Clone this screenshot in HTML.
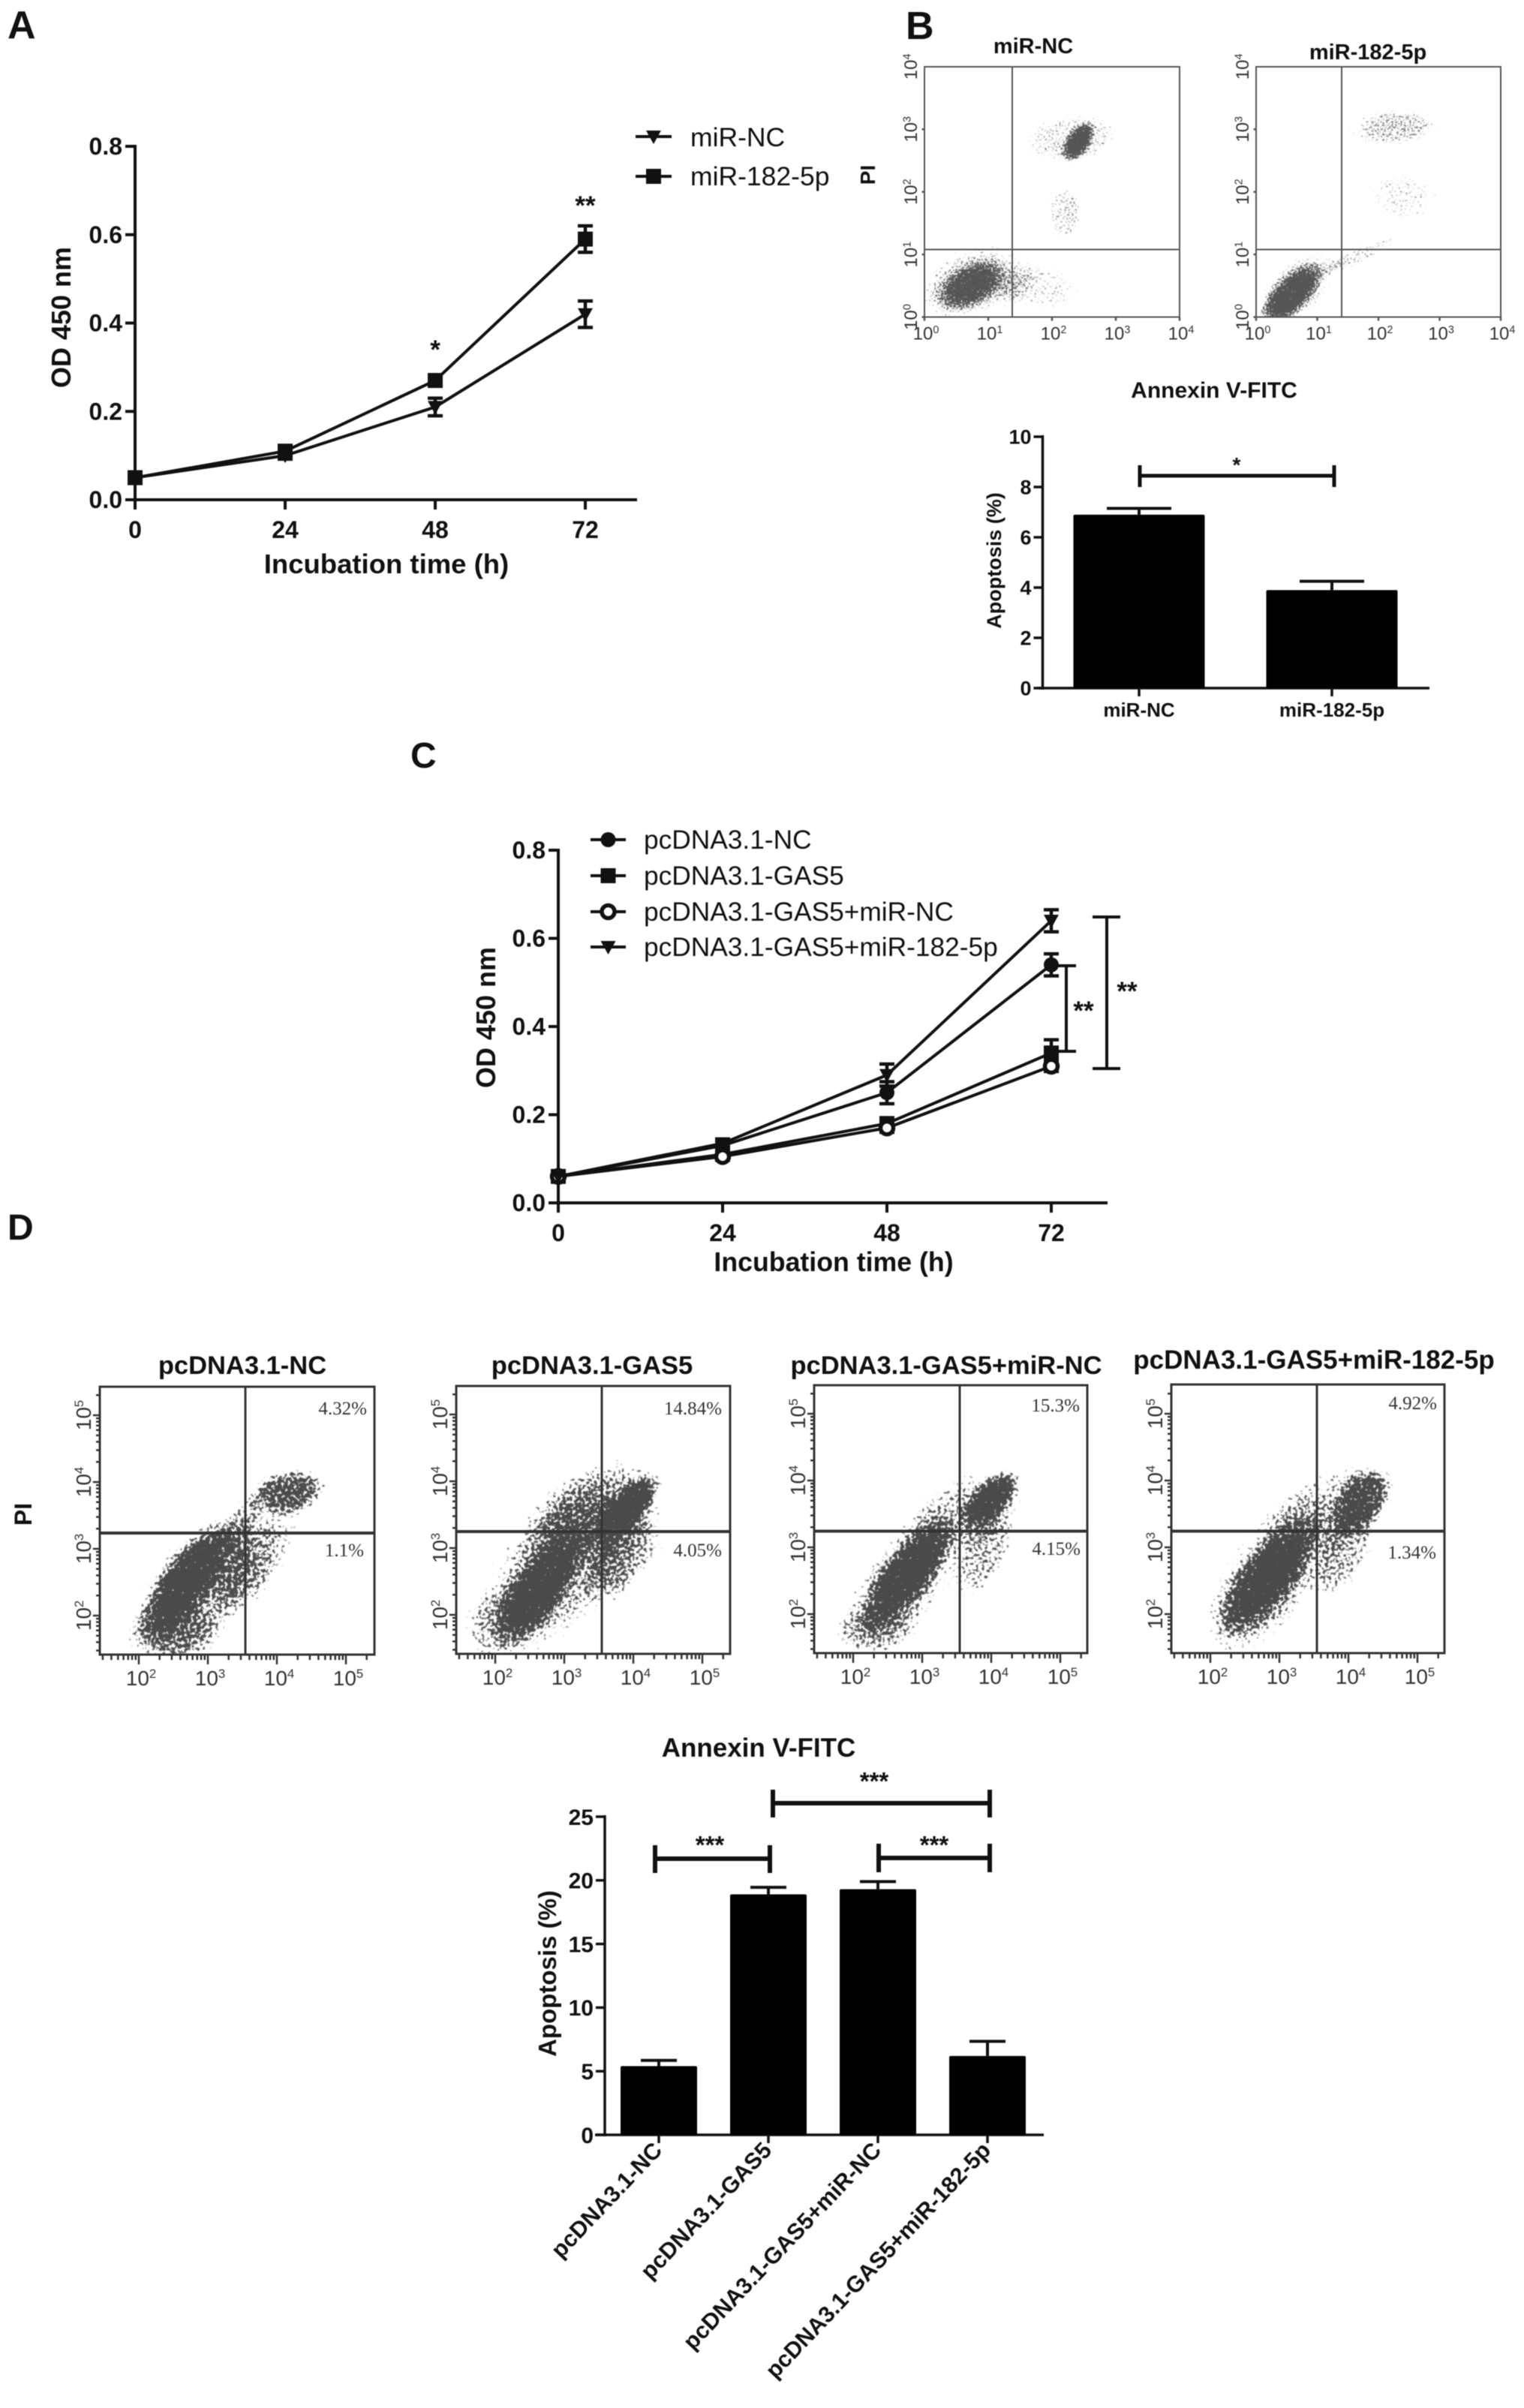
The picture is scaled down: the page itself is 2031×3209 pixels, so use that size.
<!DOCTYPE html>
<html lang="en">
<head>
<meta charset="utf-8">
<title>Cell viability and apoptosis figure</title>
<style>
html,body{margin:0;padding:0;background:#fff;}
svg{display:block;filter:blur(.6px);}
text{font-family:"Liberation Sans",sans-serif;fill:#111;}
.b{font-weight:bold;}
.s{font-family:"Liberation Serif",serif;fill:#333;font-size:25px;}
</style>
</head>
<body>
<svg id="figure" xmlns="http://www.w3.org/2000/svg" width="2031" height="3209" viewBox="0 0 2031 3209">
  <defs>
    <radialGradient id="density">
      <stop offset="0" stop-color="#000" stop-opacity="1"/>
      <stop offset=".5" stop-color="#000" stop-opacity=".92"/>
      <stop offset="1" stop-color="#000" stop-opacity="0"/>
    </radialGradient>
    <filter id="stippleD" x="0" y="0" width="1" height="1" color-interpolation-filters="sRGB">
      <feTurbulence type="fractalNoise" baseFrequency="0.24" numOctaves="2" seed="7" result="n"/>
      <feColorMatrix in="n" type="matrix" values="0 0 0 0 0 0 0 0 0 0 0 0 0 0 0 0 0 0 1 0" result="na"/>
      <feComposite in="SourceAlpha" in2="na" operator="arithmetic" k1="0" k2="1.8" k3="2" k4="-2.05" result="m"/>
      <feComponentTransfer in="m" result="t"><feFuncA type="linear" slope="6" intercept="0"/></feComponentTransfer>
      <feFlood flood-color="#4a4a4a"/>
      <feComposite in2="t" operator="in"/>
      <feGaussianBlur stdDeviation=".5"/>
    </filter>
    <filter id="stippleB" x="0" y="0" width="1" height="1" color-interpolation-filters="sRGB">
      <feTurbulence type="fractalNoise" baseFrequency="0.42" numOctaves="2" seed="11" result="n"/>
      <feColorMatrix in="n" type="matrix" values="0 0 0 0 0 0 0 0 0 0 0 0 0 0 0 0 0 0 1 0" result="na"/>
      <feComposite in="SourceAlpha" in2="na" operator="arithmetic" k1="0" k2="1.8" k3="2" k4="-2.05" result="m"/>
      <feComponentTransfer in="m" result="t"><feFuncA type="linear" slope="5" intercept="0"/></feComponentTransfer>
      <feFlood flood-color="#555"/>
      <feComposite in2="t" operator="in"/>
      <feGaussianBlur stdDeviation=".6"/>
    </filter>
  </defs>

  <!-- panel letters -->
  <text class="b" x="10" y="51" font-size="52">A</text>
  <text class="b" x="1207" y="52" font-size="52">B</text>
  <text class="b" x="547" y="1023" font-size="48">C</text>
  <text class="b" x="10" y="1652" font-size="48">D</text>

  <!-- panel A static text -->
  <text class="b" font-size="36" text-anchor="middle" transform="translate(94,423) rotate(-90)">OD 450 nm</text>
  <text class="b" font-size="36.5" text-anchor="middle" x="515" y="764">Incubation time (h)</text>
  <text class="b" font-size="35" text-anchor="middle" x="580" y="478">*</text>
  <text class="b" font-size="35" text-anchor="middle" x="780" y="286">**</text>
  <text font-size="35.5" x="920" y="195">miR-NC</text>
  <text font-size="35.5" x="920" y="247">miR-182-5p</text>

  <!-- panel B static text -->
  <text class="b" font-size="29" text-anchor="middle" x="1377" y="71">miR-NC</text>
  <text class="b" font-size="29" text-anchor="middle" x="1823" y="79">miR-182-5p</text>
  <text class="b" font-size="28" text-anchor="middle" transform="translate(1166,233) rotate(-90)">PI</text>
  <text class="b" font-size="30" text-anchor="middle" x="1618" y="530">Annexin V-FITC</text>
  <text class="b" font-size="27" text-anchor="middle" transform="translate(1334,747) rotate(-90)">Apoptosis (%)</text>
  <path d="M1519 634H1778M1519 620V649M1778 620V649" fill="none" stroke="#111" stroke-width="5"/>
  <text class="b" font-size="28" text-anchor="middle" x="1648" y="629">*</text>

  <!-- panel C static text -->
  <text class="b" font-size="36" text-anchor="middle" transform="translate(660,1356) rotate(-90)">OD 450 nm</text>
  <text class="b" font-size="35.7" text-anchor="middle" x="1111" y="1694">Incubation time (h)</text>
  <text font-size="35.3" x="858" y="1131">pcDNA3.1-NC</text>
  <text font-size="35.3" x="858" y="1179">pcDNA3.1-GAS5</text>
  <text font-size="35.3" x="858" y="1227">pcDNA3.1-GAS5+miR-NC</text>
  <text font-size="35.3" x="858" y="1274">pcDNA3.1-GAS5+miR-182-5p</text>
  <path d="M1421 1287V1401M1409 1287H1434M1409 1401H1434" fill="none" stroke="#111" stroke-width="4"/>
  <path d="M1475 1222V1424M1456 1222H1493M1456 1424H1493" fill="none" stroke="#111" stroke-width="4"/>
  <text class="b" font-size="35" text-anchor="middle" x="1444" y="1359">**</text>
  <text class="b" font-size="35" text-anchor="middle" x="1502" y="1333">**</text>

  <!-- panel D static text -->
  <text class="b" font-size="34.5" text-anchor="middle" x="323" y="1831">pcDNA3.1-NC</text>
  <text class="b" font-size="34.5" text-anchor="middle" x="789" y="1831">pcDNA3.1-GAS5</text>
  <text class="b" font-size="34.5" text-anchor="middle" x="1261" y="1831">pcDNA3.1-GAS5+miR-NC</text>
  <text class="b" font-size="35" text-anchor="middle" x="1751" y="1824">pcDNA3.1-GAS5+miR-182-5p</text>
  <text class="b" font-size="32" text-anchor="middle" transform="translate(42,2018) rotate(-90)">PI</text>
  <text class="b" font-size="35" text-anchor="middle" x="1011" y="2341">Annexin V-FITC</text>
  <text class="s" text-anchor="end" x="489" y="1885">4.32%</text>
  <text class="s" text-anchor="end" x="485" y="2074">1.1%</text>
  <text class="s" text-anchor="end" x="962" y="1885">14.84%</text>
  <text class="s" text-anchor="end" x="962" y="2074">4.05%</text>
  <text class="s" text-anchor="end" x="1439" y="1881">15.3%</text>
  <text class="s" text-anchor="end" x="1440" y="2072">4.15%</text>
  <text class="s" text-anchor="end" x="1915" y="1878">4.92%</text>
  <text class="s" text-anchor="end" x="1914" y="2077">1.34%</text>
  <text class="b" font-size="33" text-anchor="middle" transform="translate(741,2630) rotate(-90)">Apoptosis (%)</text>
  <path d="M873 2477H1026M873 2459V2496M1026 2459V2496" fill="none" stroke="#111" stroke-width="6"/>
  <path d="M1030 2403H1319M1030 2385V2422M1319 2385V2422" fill="none" stroke="#111" stroke-width="6"/>
  <path d="M1171 2476H1319M1171 2457V2495M1319 2457V2495" fill="none" stroke="#111" stroke-width="6"/>
  <text class="b" font-size="33" text-anchor="middle" x="946" y="2470">***</text>
  <text class="b" font-size="33" text-anchor="middle" x="1165" y="2385">***</text>
  <text class="b" font-size="33" text-anchor="middle" x="1245" y="2470">***</text>
</svg>

<script>
/* ---------- Panel A data ---------- */
const aTimes = [0, 24, 48, 72];
const aMirNc = [0.05, 0.10, 0.21, 0.42];
const aMirNcErr = [0.005, 0.008, 0.02, 0.03];
const aMir182 = [0.05, 0.11, 0.27, 0.59];
const aMir182Err = [0.005, 0.008, 0.012, 0.03];

/* ---------- Panel C data ---------- */
const cTimes = [0, 24, 48, 72];
const cNc = [0.06, 0.13, 0.25, 0.54];
const cNcErr = [0.012, 0.01, 0.025, 0.025];
const cGas5 = [0.06, 0.11, 0.18, 0.34];
const cGas5Err = [0.012, 0.008, 0.012, 0.03];
const cGas5MirNc = [0.06, 0.105, 0.17, 0.31];
const cGas5MirNcErr = [0.012, 0.008, 0.01, 0.012];
const cGas5Mir182 = [0.06, 0.135, 0.29, 0.64];
const cGas5Mir182Err = [0.012, 0.01, 0.025, 0.025];

/* ---------- Shared line-chart ticks ---------- */
const lineXTicks = [0, 24, 48, 72];
const lineYTicks = [0, 0.2, 0.4, 0.6, 0.8];
const lineYTickLabels = ['0.0', '0.2', '0.4', '0.6', '0.8'];

/* ---------- Bar data ---------- */
const bCategories = ['miR-NC', 'miR-182-5p'];
const bMeans = [6.9, 3.9];
const bErrTops = [7.15, 4.25];
const bYTicks = [0, 2, 4, 6, 8, 10];
const dCategories = ['pcDNA3.1-NC', 'pcDNA3.1-GAS5', 'pcDNA3.1-GAS5+miR-NC', 'pcDNA3.1-GAS5+miR-182-5p'];
const dMeans = [5.4, 18.9, 19.3, 6.2];
const dErrTops = [5.85, 19.45, 19.9, 7.35];
const dYTicks = [0, 5, 10, 15, 20, 25];

/* ---------- Flow cytometry populations, estimated by eye:
   [log10 Annexin, log10 PI, long radius, short radius (decades), angle, density] ---------- */
const bFlowExponents = [0, 1, 2, 3, 4];
const dFlowExponents = [2, 3, 4, 5];
const flowB1 = [[0.73,0.51,0.62,0.36,-28,0.9],[0.75,0.55,1.2,0.72,-20,0.55],[1.85,0.45,0.85,0.5,0,0.42],[2.41,2.8,0.4,0.22,-55,1],[2.3,2.85,1.05,0.55,-5,0.48],[2.2,1.65,0.6,0.38,90,0.48]];
const flowB2 = [[0.58,0.37,0.7,0.3,-45,1],[0.62,0.42,1.1,0.55,-45,0.56],[1.7,1.0,0.85,0.18,-25,0.46],[2.27,3.03,0.95,0.4,-5,0.54],[2.4,1.92,0.8,0.55,0,0.42]];
const flowD1 = [[2.7,2.5,1.12,0.44,-54,1],[2.85,2.4,1.6,0.95,-54,0.56],[3.7,2.85,1.1,0.55,-52,0.52],[4.16,3.85,0.7,0.42,-10,0.8],[3.45,3.35,0.65,0.25,-55,0.46],[2.5,1.75,0.8,0.5,0,0.48]];
const flowD2 = [[2.67,2.45,1.12,0.44,-54,1],[2.9,2.7,1.75,1.1,-54,0.58],[3.91,3.61,0.7,0.3,-45,1],[3.5,3.6,1.3,0.82,-30,0.54],[3.9,2.9,0.95,0.55,-55,0.56],[2.1,1.9,0.9,0.62,-30,0.46]];
const flowD3 = [[2.79,2.6,1.05,0.4,-52,1],[2.7,2.45,1.4,0.75,-52,0.6],[3.98,3.71,0.62,0.3,-45,1],[3.6,3.55,1.2,0.66,-25,0.52],[3.9,2.9,0.92,0.45,-60,0.54],[2.3,1.75,0.8,0.45,0,0.4]];
const flowD4 = [[2.84,2.56,1.12,0.45,-52,1],[2.8,2.45,1.6,0.85,-52,0.6],[4.2,3.72,0.65,0.42,-50,0.78],[3.7,3.6,1.2,0.72,-20,0.5],[3.95,2.9,0.92,0.45,-65,0.54]];

/* ---------- Helpers ---------- */
const NS = 'http://www.w3.org/2000/svg';
const fig = document.getElementById('figure');
function make(tag, attrs, parent, name) {
  const el = document.createElementNS(NS, tag);
  for (const k in attrs) el.setAttribute(k, attrs[k]);
  
  
  (parent || fig).appendChild(el);
  return el;
}
function label(txt, x, y, size, anchor, bold, parent, name, transform) {
  const attrs = {x: x, y: y, 'font-size': size, 'text-anchor': anchor};
  if (bold) attrs['font-weight'] = 'bold';
  if (transform) attrs.transform = transform;
  const el = make('text', attrs, parent, name);
  el.textContent = txt;
  return el;
}
function marker(shape, x, y, parent, name) {
  if (shape === 'square') return make('rect', {x: x - 10, y: y - 10, width: 20, height: 20, fill: '#111'}, parent, name);
  if (shape === 'circle') return make('circle', {cx: x, cy: y, r: 10, fill: '#111'}, parent, name);
  if (shape === 'ring') return make('circle', {cx: x, cy: y, r: 8.5, fill: '#fff', stroke: '#111', 'stroke-width': 5.5}, parent, name);
  return make('polygon', {points: (x - 10) + ',' + (y - 8) + ' ' + (x + 10) + ',' + (y - 8) + ' ' + x + ',' + (y + 10), fill: '#111'}, parent, name);
}

/* ---------- Line charts ---------- */
function lineAxes(g, xOf, yOf, xEnd, prefix) {
  const x0 = xOf(0), y0 = yOf(0);
  make('line', {x1: x0, x2: x0, y1: yOf(0.8) - 2, y2: y0 + 2, stroke: '#111', 'stroke-width': 4}, g, prefix + '-y-axis');
  make('line', {x1: x0 - 2, x2: xEnd, y1: y0, y2: y0, stroke: '#111', 'stroke-width': 4}, g, prefix + '-x-axis');
  lineYTicks.forEach(function (v, i) {
    make('line', {x1: x0 - 13, x2: x0, y1: yOf(v), y2: yOf(v), stroke: '#111', 'stroke-width': 4}, g, prefix + '-y-tick');
    label(lineYTickLabels[i], x0 - 17, yOf(v) + 11, 32, 'end', true, g, prefix + '-y-tick-label');
  });
  lineXTicks.forEach(function (t) {
    make('line', {x1: xOf(t), x2: xOf(t), y1: y0, y2: y0 + 13, stroke: '#111', 'stroke-width': 4}, g, prefix + '-x-tick');
    label(String(t), xOf(t), y0 + 51, 32, 'middle', true, g, prefix + '-x-tick-label');
  });
}
function drawSeries(g, times, vals, errs, shape, xOf, yOf, name) {
  const pts = vals.map(function (v, i) { return xOf(times[i]) + ',' + yOf(v); }).join(' ');
  make('polyline', {points: pts, fill: 'none', stroke: '#111', 'stroke-width': 4}, g, name + '-line');
  vals.forEach(function (v, i) {
    const x = xOf(times[i]), hi = yOf(v + errs[i]), lo = yOf(v - errs[i]);
    make('path', {d: 'M' + x + ' ' + hi + 'V' + lo + 'M' + (x - 10) + ' ' + hi + 'H' + (x + 10) + 'M' + (x - 10) + ' ' + lo + 'H' + (x + 10), fill: 'none', stroke: '#111', 'stroke-width': 4.5}, g, name + '-error-bar');
    marker(shape, x, yOf(v), g, name + '-point');
  });
}
function legendKey(g, x1, x2, y, shape, name) {
  make('line', {x1: x1, x2: x2, y1: y, y2: y, stroke: '#111', 'stroke-width': 4}, g, name + '-line');
  marker(shape, (x1 + x2) / 2, y, g, name + '-marker');
}

const gA = make('g', {}, fig, 'panel-a-line-chart');
const aX = function (t) { return 180 + t * (600 / 72); };
const aY = function (v) { return 666 - v * (471 / 0.8); };
lineAxes(gA, aX, aY, 849, 'a');
drawSeries(gA, aTimes, aMirNc, aMirNcErr, 'tri', aX, aY, 'a-series-mir-nc');
drawSeries(gA, aTimes, aMir182, aMir182Err, 'square', aX, aY, 'a-series-mir-182');
legendKey(gA, 847, 895, 182, 'tri', 'a-legend-mir-nc');
legendKey(gA, 847, 895, 235, 'square', 'a-legend-mir-182');

const gC = make('g', {}, fig, 'panel-c-line-chart');
const cX = function (t) { return 744 + t * (657 / 72); };
const cY = function (v) { return 1603 - v * (470 / 0.8); };
lineAxes(gC, cX, cY, 1476, 'c');
drawSeries(gC, cTimes, cNc, cNcErr, 'circle', cX, cY, 'c-series-nc');
drawSeries(gC, cTimes, cGas5, cGas5Err, 'square', cX, cY, 'c-series-gas5');
drawSeries(gC, cTimes, cGas5MirNc, cGas5MirNcErr, 'ring', cX, cY, 'c-series-gas5-mir-nc');
drawSeries(gC, cTimes, cGas5Mir182, cGas5Mir182Err, 'tri', cX, cY, 'c-series-gas5-mir-182');
legendKey(gC, 787, 834, 1119, 'circle', 'c-legend-nc');
legendKey(gC, 787, 834, 1167, 'square', 'c-legend-gas5');
legendKey(gC, 787, 834, 1215, 'ring', 'c-legend-gas5-mir-nc');
legendKey(gC, 787, 834, 1262, 'tri', 'c-legend-gas5-mir-182');

/* ---------- Bar charts ---------- */
function barChart(g, cats, means, tops, ticks, o) {
  const y0 = o.yOf(0);
  make('line', {x1: o.axisX, x2: o.axisX, y1: o.yOf(ticks[ticks.length - 1]) - 2, y2: y0 + 2, stroke: '#111', 'stroke-width': 3.5}, g, o.prefix + '-y-axis');
  make('line', {x1: o.axisStart, x2: o.axisEnd, y1: y0, y2: y0, stroke: '#111', 'stroke-width': 3.5}, g, o.prefix + '-x-axis');
  ticks.forEach(function (v) {
    make('line', {x1: o.axisX - 12, x2: o.axisX, y1: o.yOf(v), y2: o.yOf(v), stroke: '#111', 'stroke-width': 3.5}, g, o.prefix + '-y-tick');
    label(String(v), o.axisX - 15, o.yOf(v) + o.font * 0.36, o.font, 'end', true, g, o.prefix + '-y-tick-label');
  });
  cats.forEach(function (c, i) {
    const cx = o.xOf(i);
    make('line', {x1: cx, x2: cx, y1: o.yOf(tops[i]), y2: o.yOf(means[i]), stroke: '#111', 'stroke-width': 4}, g, o.prefix + '-error-stem');
    make('line', {x1: cx - o.cap, x2: cx + o.cap, y1: o.yOf(tops[i]), y2: o.yOf(tops[i]), stroke: '#111', 'stroke-width': 4}, g, o.prefix + '-error-cap');
    make('rect', {x: cx - o.barW / 2, y: o.yOf(means[i]), width: o.barW, height: y0 - o.yOf(means[i]), rx: 2, fill: '#000'}, g, o.prefix + '-bar');
    make('line', {x1: cx, x2: cx, y1: y0, y2: y0 + 11, stroke: '#111', 'stroke-width': 3.5}, g, o.prefix + '-x-tick');
    if (o.rotate) {
      const lx = cx + 6, ly = y0 + 22;
      label(c, lx, ly, 30.5, 'end', true, g, o.prefix + '-category-label', 'rotate(-46.5 ' + lx + ' ' + ly + ')');
    } else {
      label(c, cx, y0 + 38, 26, 'middle', true, g, o.prefix + '-category-label');
    }
  });
}
const gBBar = make('g', {}, fig, 'panel-b-bar-chart');
barChart(gBBar, bCategories, bMeans, bErrTops, bYTicks, {
  prefix: 'b-bar', axisX: 1389.5, axisStart: 1383, axisEnd: 1905, font: 27, barW: 175, cap: 43, rotate: false,
  xOf: function (i) { return 1518 + i * 257; },
  yOf: function (v) { return 917 - v * 33.5; }
});
const gDBar = make('g', {}, fig, 'panel-d-bar-chart');
barChart(gDBar, dCategories, dMeans, dErrTops, dYTicks, {
  prefix: 'd-bar', axisX: 806, axisStart: 793, axisEnd: 1391, font: 30, barW: 102, cap: 24, rotate: true,
  xOf: function (i) { return 878 + i * 146; },
  yOf: function (v) { return 2845 - v * 16.96; }
});

/* ---------- Flow cytometry dot plots ---------- */
let clipIndex = 0;
function flowPlot(f, clusters, exps) {
  const g = make('g', {}, fig, f.prefix + '-flow-plot');
  const xOf = function (v) { return f.left + f.xOff + (v - exps[0]) * f.xDec; };
  const yOf = function (v) { return f.bottom - f.yOff - (v - exps[0]) * f.yDec; };
  const id = 'flowClip' + (clipIndex++);
  const defsClip = make('clipPath', {id: id}, g, f.prefix + '-clip');
  make('rect', {x: f.left, y: f.top, width: f.right - f.left, height: f.bottom - f.top}, defsClip, f.prefix + '-clip-rect');
  const clipG = make('g', {'clip-path': 'url(#' + id + ')'}, g, f.prefix + '-events-clip');
  const dots = make('g', {filter: 'url(#' + f.filter + ')'}, clipG, f.prefix + '-event-density');
  make('rect', {x: f.left, y: f.top, width: f.right - f.left, height: f.bottom - f.top, fill: 'none'}, dots, f.prefix + '-density-bounds');
  clusters.forEach(function (c) {
    const cx = xOf(c[0]), cy = yOf(c[1]);
    make('ellipse', {cx: cx, cy: cy, rx: c[2] * f.xDec, ry: c[3] * f.yDec, fill: 'url(#density)', 'fill-opacity': c[5], transform: 'rotate(' + c[4] + ' ' + cx + ' ' + cy + ')'}, dots, f.prefix + '-population');
  });
  make('rect', {x: f.left, y: f.top, width: f.right - f.left, height: f.bottom - f.top, fill: 'none', stroke: f.color, 'stroke-width': f.sw}, g, f.prefix + '-frame');
  make('line', {x1: f.vert, x2: f.vert, y1: f.top, y2: f.bottom, stroke: f.color, 'stroke-width': f.sw}, g, f.prefix + '-quadrant-vertical');
  make('line', {x1: f.left, x2: f.right, y1: f.horiz, y2: f.horiz, stroke: f.color, 'stroke-width': f.sw + f.extra}, g, f.prefix + '-quadrant-horizontal');
  const first = exps[0], last = exps[exps.length - 1];
  for (let d = first - 1; d <= last; d++) {
    for (let k = 1; k <= 9; k++) {
      const lv = d + Math.log10(k);
      const major = k === 1;
      if (!major && !f.minor) continue;
      const tx = xOf(lv), ty = yOf(lv), len = major ? f.major : f.major * 0.55;
      if (tx >= f.left && tx <= f.right) make('line', {x1: tx, x2: tx, y1: f.bottom, y2: f.bottom + len, stroke: f.color, 'stroke-width': 2.5}, g, f.prefix + '-x-tick');
      if (ty >= f.top && ty <= f.bottom) make('line', {x1: f.left - len * 0.7, x2: f.left, y1: ty, y2: ty, stroke: f.color, 'stroke-width': 2.5}, g, f.prefix + '-y-tick');
    }
  }
  exps.forEach(function (e) {
    const lx = make('text', {x: xOf(e) + f.labelShift, y: f.bottom + f.labelDrop, 'font-size': f.font, 'text-anchor': 'middle', style: 'fill:#333'}, g, f.prefix + '-x-tick-label');
    lx.textContent = '10';
    const sx = make('tspan', {dy: -f.font * 0.36, 'font-size': f.font * 0.6}, lx, f.prefix + '-x-tick-exponent');
    sx.textContent = String(e);
    const rx = f.left - f.labelLeft, ry = yOf(e);
    const ly = make('text', {x: rx, y: ry, 'font-size': f.font, 'text-anchor': 'middle', transform: 'rotate(-90 ' + rx + ' ' + ry + ')', style: 'fill:#333'}, g, f.prefix + '-y-tick-label');
    ly.textContent = '10';
    const sy = make('tspan', {dy: -f.font * 0.36, 'font-size': f.font * 0.6}, ly, f.prefix + '-y-tick-exponent');
    sy.textContent = String(e);
  });
}
const bFrame = {filter: 'stippleB', top: 89, bottom: 422.5, color: '#555', sw: 2, extra: 0, minor: false, major: 5, font: 24, labelDrop: 30, labelLeft: 10, labelShift: 2, yOff: 0, yDec: 83.4, horiz: 332.5, xOff: 0};
flowPlot(Object.assign({}, bFrame, {prefix: 'b-mir-nc', left: 1232, right: 1572, vert: 1349, xDec: 85}), flowB1, bFlowExponents);
flowPlot(Object.assign({}, bFrame, {prefix: 'b-mir-182', left: 1674, right: 2000, vert: 1788, xDec: 81.5}), flowB2, bFlowExponents);
const dFrame = {filter: 'stippleD', color: '#333', sw: 3, extra: 1, minor: true, major: 13, font: 28, labelDrop: 41, labelLeft: 12, labelShift: 3, yOff: 52, yDec: 89, xOff: 52, xDec: 92};
flowPlot(Object.assign({}, dFrame, {prefix: 'd-nc', left: 133, right: 499, top: 1848, bottom: 2205, vert: 327, horiz: 2043}), flowD1, dFlowExponents);
flowPlot(Object.assign({}, dFrame, {prefix: 'd-gas5', left: 608, right: 973, top: 1847, bottom: 2204, vert: 802, horiz: 2041}), flowD2, dFlowExponents);
flowPlot(Object.assign({}, dFrame, {prefix: 'd-gas5-mir-nc', left: 1085, right: 1449, top: 1846, bottom: 2203, vert: 1279, horiz: 2040.5}), flowD3, dFlowExponents);
flowPlot(Object.assign({}, dFrame, {prefix: 'd-gas5-mir-182', left: 1561, right: 1925, top: 1845, bottom: 2203, vert: 1755, horiz: 2040.5}), flowD4, dFlowExponents);
</script>
</body>
</html>
